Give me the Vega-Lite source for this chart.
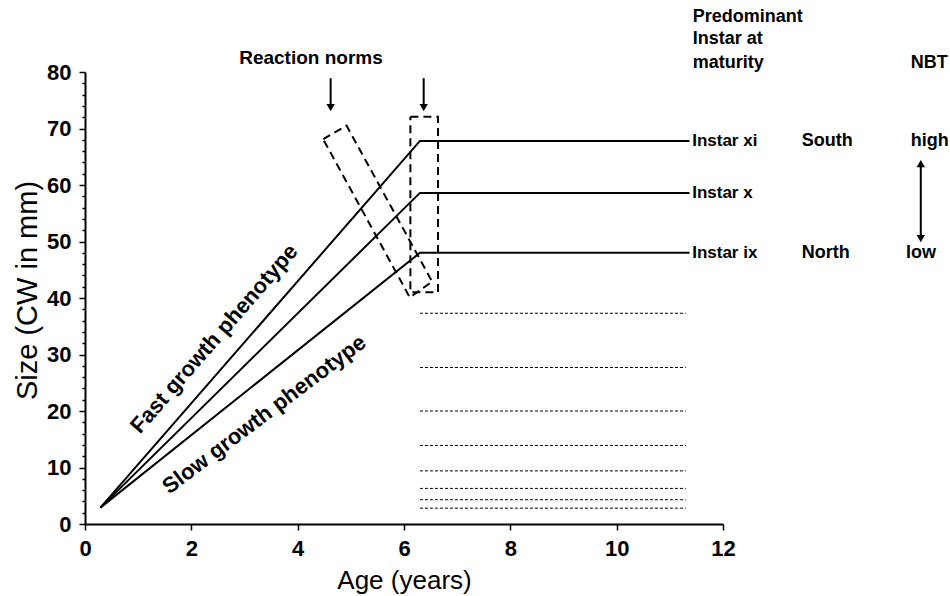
{
  "$schema": "https://vega.github.io/schema/vega-lite/v6.json",
  "width": 638,
  "height": 452,
  "autosize": {"type": "none"},
  "padding": {"left": 85, "top": 72, "right": 227, "bottom": 72},
  "background": "white",
  "config": {
    "view": {"stroke": null},
    "font": "Liberation Sans",
    "axis": {"domainColor": "black", "tickColor": "black", "labelColor": "black", "titleColor": "black", "grid": false, "domainWidth": 2, "tickWidth": 1.5, "labelFont": "Liberation Sans", "titleFont": "Liberation Sans"}
  },
  "datasets": {
    "growth": [
      {"g": "xi", "o": 0, "x": 0.29, "y": 2.9}, {"g": "xi", "o": 1, "x": 6.3, "y": 67.8}, {"g": "xi", "o": 2, "x": 11.37, "y": 67.8},
      {"g": "x", "o": 0, "x": 0.29, "y": 2.9}, {"g": "x", "o": 1, "x": 6.3, "y": 58.6}, {"g": "x", "o": 2, "x": 11.37, "y": 58.6},
      {"g": "ix", "o": 0, "x": 0.29, "y": 2.9}, {"g": "ix", "o": 1, "x": 6.3, "y": 48.0}, {"g": "ix", "o": 2, "x": 11.37, "y": 48.0}
    ],
    "instars": [
      {"x": 6.3, "x2": 11.3, "y": 37.3}, {"x": 6.3, "x2": 11.3, "y": 27.7}, {"x": 6.3, "x2": 11.3, "y": 20.0}, {"x": 6.3, "x2": 11.3, "y": 13.9},
      {"x": 6.3, "x2": 11.3, "y": 9.4}, {"x": 6.3, "x2": 11.3, "y": 6.3}, {"x": 6.3, "x2": 11.3, "y": 4.3}, {"x": 6.3, "x2": 11.3, "y": 2.8}
    ],
    "boxes": [
      {"b": "tilted", "o": 0, "x": 4.48, "y": 68.1}, {"b": "tilted", "o": 1, "x": 4.92, "y": 70.5}, {"b": "tilted", "o": 2, "x": 6.53, "y": 42.9}, {"b": "tilted", "o": 3, "x": 6.11, "y": 40.1}, {"b": "tilted", "o": 4, "x": 4.48, "y": 68.1},
      {"b": "vertical", "o": 0, "x": 6.12, "y": 72.1}, {"b": "vertical", "o": 1, "x": 6.64, "y": 72.1}, {"b": "vertical", "o": 2, "x": 6.64, "y": 41.0}, {"b": "vertical", "o": 3, "x": 6.12, "y": 41.0}, {"b": "vertical", "o": 4, "x": 6.12, "y": 72.1}
    ],
    "shafts": [
      {"x": 4.62, "y": 78.9, "y2": 74.0}, {"x": 6.37, "y": 78.9, "y2": 74.0}, {"x": 15.72, "y": 63.5, "y2": 50.8}
    ],
    "heads": [
      {"x": 4.62, "y": 73.7, "dir": "down"}, {"x": 6.37, "y": 73.7, "dir": "down"}, {"x": 15.72, "y": 63.8, "dir": "up"}, {"x": 15.72, "y": 50.5, "dir": "down"}
    ],
    "titleText": [
      {"x": 4.25, "y": 82.5, "text": "Reaction norms"}
    ],
    "labels": [
      {"x": 11.43, "y": 89.7, "text": "Predominant", "size": 18},
      {"x": 11.43, "y": 85.8, "text": "Instar at", "size": 18},
      {"x": 11.43, "y": 81.6, "text": "maturity", "size": 18},
      {"x": 15.53, "y": 81.6, "text": "NBT", "size": 18},
      {"x": 11.42, "y": 67.8, "text": "Instar xi", "size": 17},
      {"x": 11.42, "y": 58.6, "text": "Instar x", "size": 17},
      {"x": 11.42, "y": 48.0, "text": "Instar ix", "size": 17},
      {"x": 13.48, "y": 67.8, "text": "South", "size": 18},
      {"x": 13.48, "y": 48.0, "text": "North", "size": 18},
      {"x": 15.53, "y": 67.8, "text": "high", "size": 18},
      {"x": 15.44, "y": 48.0, "text": "low", "size": 18}
    ],
    "phenotypes": [
      {"x": 2.43, "y": 32.8, "text": "Fast growth phenotype", "angle": -49},
      {"x": 3.37, "y": 19.4, "text": "Slow growth phenotype", "angle": -37}
    ]
  },
  "encoding": {
    "x": {
      "field": "x", "type": "quantitative",
      "scale": {"domain": [0, 12], "nice": false, "zero": false},
      "axis": {"title": "Age (years)", "values": [0, 2, 4, 6, 8, 10, 12], "tickSize": 6, "labelFontSize": 22, "labelFontWeight": "bold", "titleFontSize": 26, "titleFontWeight": "normal", "labelPadding": 8, "titleY": 56, "titleBaseline": "middle", "labelFlush": false}
    },
    "y": {
      "field": "y", "type": "quantitative",
      "scale": {"domain": [0, 80], "nice": false, "zero": false},
      "axis": {"title": "Size (CW in mm)", "values": [0, 2, 4, 6, 8, 10, 12, 14, 16, 18, 20, 22, 24, 26, 28, 30, 32, 34, 36, 38, 40, 42, 44, 46, 48, 50, 52, 54, 56, 58, 60, 62, 64, 66, 68, 70, 72, 74, 76, 78, 80],
        "labelExpr": "datum.value % 10 === 0 ? datum.label : ''",
        "tickSize": {"condition": {"test": "datum.value % 10 === 0", "value": 6}, "value": 3},
        "labelOverlap": false, "labelFlush": false, "labelFontSize": 22, "labelFontWeight": "bold", "titleFontSize": 29, "titleFontWeight": "normal", "labelPadding": 8, "titleX": -58, "titleY": 218, "titleBaseline": "middle"}
    }
  },
  "layer": [
    {"data": {"name": "growth"}, "mark": {"type": "line", "color": "black", "strokeWidth": 2}, "encoding": {"detail": {"field": "g"}, "order": {"field": "o", "type": "quantitative"}}},
    {"data": {"name": "instars"}, "mark": {"type": "rule", "color": "black", "strokeWidth": 1, "strokeDash": [3, 2]}, "encoding": {"x2": {"field": "x2"}}},
    {"data": {"name": "boxes"}, "mark": {"type": "line", "color": "black", "strokeWidth": 2, "strokeDash": [8, 5]}, "encoding": {"detail": {"field": "b"}, "order": {"field": "o", "type": "quantitative"}}},
    {"data": {"name": "shafts"}, "mark": {"type": "rule", "color": "black", "strokeWidth": 2}, "encoding": {"y2": {"field": "y2"}}},
    {"data": {"name": "heads"}, "mark": {"type": "point", "filled": true, "color": "black", "opacity": 1, "size": 70}, "encoding": {"shape": {"field": "dir", "type": "nominal", "scale": {"domain": ["up", "down"], "range": ["triangle-up", "triangle-down"]}, "legend": null}}},
    {"data": {"name": "titleText"}, "mark": {"type": "text", "fontWeight": "bold", "fontSize": 19, "baseline": "middle", "align": "center", "color": "black", "font": "Liberation Sans"}, "encoding": {"text": {"field": "text"}}},
    {"data": {"name": "labels"}, "mark": {"type": "text", "fontWeight": "bold", "baseline": "middle", "align": "left", "color": "black", "font": "Liberation Sans"}, "encoding": {"text": {"field": "text"}, "size": {"field": "size", "type": "quantitative", "scale": null}}},
    {"data": {"name": "phenotypes"}, "mark": {"type": "text", "fontWeight": "bold", "fontSize": 22, "baseline": "middle", "align": "center", "color": "black", "font": "Liberation Sans"}, "encoding": {"text": {"field": "text"}, "angle": {"field": "angle", "type": "quantitative", "scale": null}}}
  ]
}
